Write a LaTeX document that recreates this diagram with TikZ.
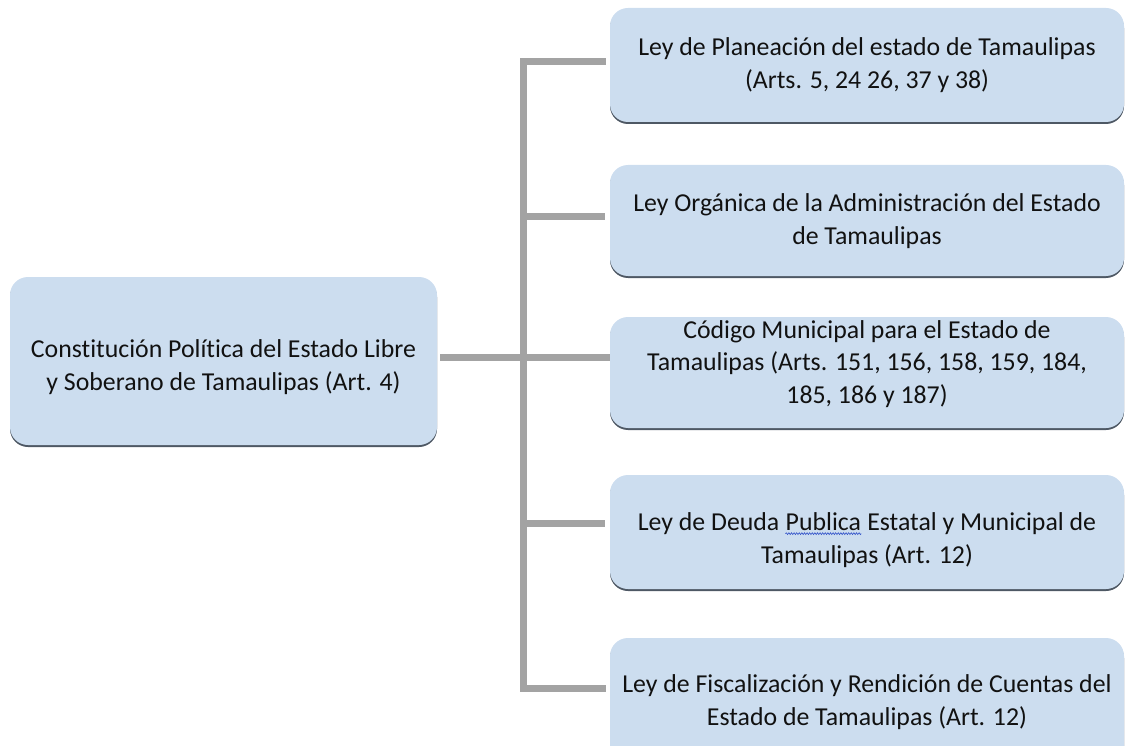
\documentclass[tikz,border=0pt]{standalone}
\usepackage{fontspec}
\setmainfont[Ligatures=NoCommon]{Carlito}
\usetikzlibrary{shadows,decorations.pathmorphing}
\definecolor{boxfill}{HTML}{CCDDEF}
\definecolor{boxshadow}{HTML}{4E5864}
\definecolor{connc}{HTML}{A3A3A3}
\definecolor{txt}{HTML}{111111}
\definecolor{squig}{HTML}{3050C8}
\newcommand{\squigword}[1]{\tikz[baseline=(sw.base),x=1pt,y=1pt]{\node[inner sep=0pt,text=txt] (sw) {#1};
  \draw[squig, line width=0.6pt, decorate, decoration={snake, amplitude=0.9pt, segment length=2.6pt}]
    ([yshift=-3pt]sw.base west) -- ([yshift=-3pt]sw.base east);}}
\begin{document}
\begin{tikzpicture}[x=1pt,y=-1pt,
  box/.style={draw=none, fill=boxfill, rounded corners=18pt, inner sep=0pt,
    drop shadow={shadow xshift=0pt, shadow yshift=-2pt, fill=boxshadow, opacity=1}},
  lbl/.style={align=center, text=txt, font=\fontsize{25.8}{32.5}\selectfont, inner sep=0pt},
  link/.style={draw=connc, line width=7pt}]
\useasboundingbox (0,0) rectangle (1127,746);
\clip (0,0) rectangle (1127,746);

% boxes
\node[box, minimum width=427pt, minimum height=168pt] (root) at (223.5,361) {};
\node[box, minimum width=514pt, minimum height=114pt] (b1) at (867,65) {};
\node[box, minimum width=514pt, minimum height=111pt] (b2) at (867,220.5) {};
\node[box, minimum width=514pt, minimum height=111pt] (b3) at (867,372.5) {};
\node[box, minimum width=514pt, minimum height=114pt] (b4) at (867,532) {};
\node[box, minimum width=514pt, minimum height=128pt] (b5) at (867,702) {};

% texts
\node[lbl] (t0) at (223.5,367) {Constitución Política del Estado Libre\\y Soberano de Tamaulipas (Art. 4)};
\node[lbl] (t1) at (867,65) {Ley de Planeación del estado de Tamaulipas\\(Arts. 5, 24 26, 37 y 38)};
\node[lbl] (t2) at (867,221) {Ley Orgánica de la Administración del Estado\\de Tamaulipas};
\node[lbl] (t3) at (867,364) {Código Municipal para el Estado de\\Tamaulipas (Arts. 151, 156, 158, 159, 184,\\185, 186 y 187)};
\node[lbl] (t4) at (867,540) {Ley de Deuda \squigword{Publica} Estatal y Municipal de\\Tamaulipas (Art. 12)};
\node[lbl] (t5) at (867,702) {Ley de Fiscalización y Rendición de Cuentas del\\Estado de Tamaulipas (Art. 12)};

% connectors
\coordinate (jt) at (523.5,62);
\coordinate (jb) at (523.5,688);
\coordinate (jm) at (523.5,357);
\coordinate (j2) at (523.5,217);
\coordinate (j4) at (523.5,523);
\draw[link, shorten <=4pt, shorten >=4pt] (b1.west |- jt) -- (jt) -- (jb) -- (b5.west |- jb);
\draw[link, shorten <=3pt] (root.east |- jm) -- (b3.west |- jm);
\draw[link, shorten >=5pt] (j2) -- (b2.west |- j2);
\draw[link, shorten >=5pt] (j4) -- (b4.west |- j4);
\end{tikzpicture}
\end{document}
